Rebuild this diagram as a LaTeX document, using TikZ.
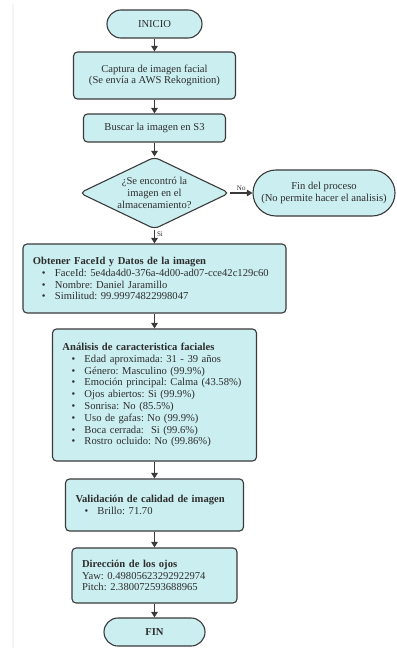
\documentclass[tikz,border=0pt]{standalone}
\usepackage{fontspec}
\setmainfont{Liberation Serif}
\usetikzlibrary{arrows.meta,shapes.geometric}
\definecolor{boxfill}{RGB}{203,238,240}
\definecolor{boxline}{RGB}{58,58,58}
\definecolor{txt}{RGB}{45,45,45}
\definecolor{edgeline}{RGB}{244,244,244}
% bullet item inside the list boxes
\newcommand{\bul}{\hspace*{9bp}\makebox[13bp][l]{\textbullet}}
\frenchspacing

\begin{document}
\begin{tikzpicture}[x=1bp,y=-1bp,
  base/.style={draw=boxline, fill=boxfill, line width=1.1bp, text=txt,
    font=\fontsize{10.6bp}{11.8bp}\selectfont, inner sep=0pt},
  proc/.style={base, rounded corners=4bp, align=center},
  term/.style={base, align=center},
  listbox/.style={base, rounded corners=4bp, align=left, inner xsep=10bp},
  decision/.style={base, shape=diamond, aspect=2, rounded corners=5bp, align=center},
  arr/.style={draw=boxline, line width=1.1bp, -{Triangle[length=5.5bp,width=6.5bp]}},
  lbl/.style={font=\fontsize{7bp}{8bp}\selectfont, text=txt, inner sep=1bp}]

\useasboundingbox (0,0) rectangle (396,648);
\fill[white] (0,0) rectangle (396,648);
\fill[edgeline] (11.5,4) rectangle (14,648);

% main column
\node[term, rounded corners=14bp, minimum width=95bp, minimum height=28bp] (inicio) at (154.5,24) {INICIO};
\node[proc, minimum width=162bp, minimum height=47bp] (captura) at (154.5,75.5)
  {Captura de imagen facial\\(Se envía a AWS Rekognition)};
\node[proc, minimum width=142bp, minimum height=28bp] (buscar) at (154.5,128) {Buscar la imagen en S3};
\node[decision, minimum width=150bp, minimum height=72bp] (dec) at (154.5,193)
  {¿Se encontró la\\imagen en el\\almacenamiento?};
\node[term, rounded corners=23bp, minimum width=142bp, minimum height=46bp] (finproc) at (324,193)
  {Fin del proceso\\(No permite hacer el analisis)};

\node[listbox, text width=243bp, minimum height=69bp] (obtener) at (154.5,278.5)
  {\textbf{Obtener FaceId y Datos de la imagen}\\
   \bul FaceId: 5e4da4d0-376a-4d00-ad07-cce42c129c60\\
   \bul Nombre: Daniel Jaramillo\\
   \bul Similitud: 99.99974822998047};

\node[listbox, text width=184bp, minimum height=132bp] (analisis) at (154.5,395)
  {\textbf{Análisis de caracteristica faciales}\\
   \bul Edad aproximada: 31 - 39 años\\
   \bul Género: Masculino (99.9\%)\\
   \bul Emoción principal: Calma (43.58\%)\\
   \bul Ojos abiertos: Si (99.9\%)\\
   \bul Sonrisa: No (85.5\%)\\
   \bul Uso de gafas: No (99.9\%)\\
   \bul Boca cerrada:\ \ Si (99.6\%)\\
   \bul Rostro ocluido: No (99.86\%)};

\node[listbox, text width=158bp, minimum height=52bp] (validacion) at (154.5,505)
  {\textbf{Validación de calidad de imagen}\\
   \bul Brillo: 71.70};

\node[listbox, text width=145bp, minimum height=55bp] (direccion) at (154.5,575.5)
  {\textbf{Dirección de los ojos}\\
   Yaw: 0.49805623292922974\\
   Pitch: 2.380072593688965};

\node[term, rounded corners=14bp, minimum width=101bp, minimum height=28bp, font=\fontsize{10.6bp}{11.8bp}\selectfont\bfseries] (fin) at (154.5,632) {FIN};

% connectors
\draw[arr] (inicio) -- (captura);
\draw[arr] (captura) -- (buscar);
\draw[arr] (buscar) -- (dec);
\draw[arr] (dec) -- node[lbl, above=1bp] (lblno) {No} (finproc);
\draw[arr] (dec) -- node[lbl, pos=0.3, right=1bp] (lblsi) {Si} (obtener);
\draw[arr] (obtener) -- (analisis);
\draw[arr] (analisis) -- (validacion);
\draw[arr] (validacion) -- (direccion);
\draw[arr] (direccion) -- (fin);
\end{tikzpicture}
\end{document}
